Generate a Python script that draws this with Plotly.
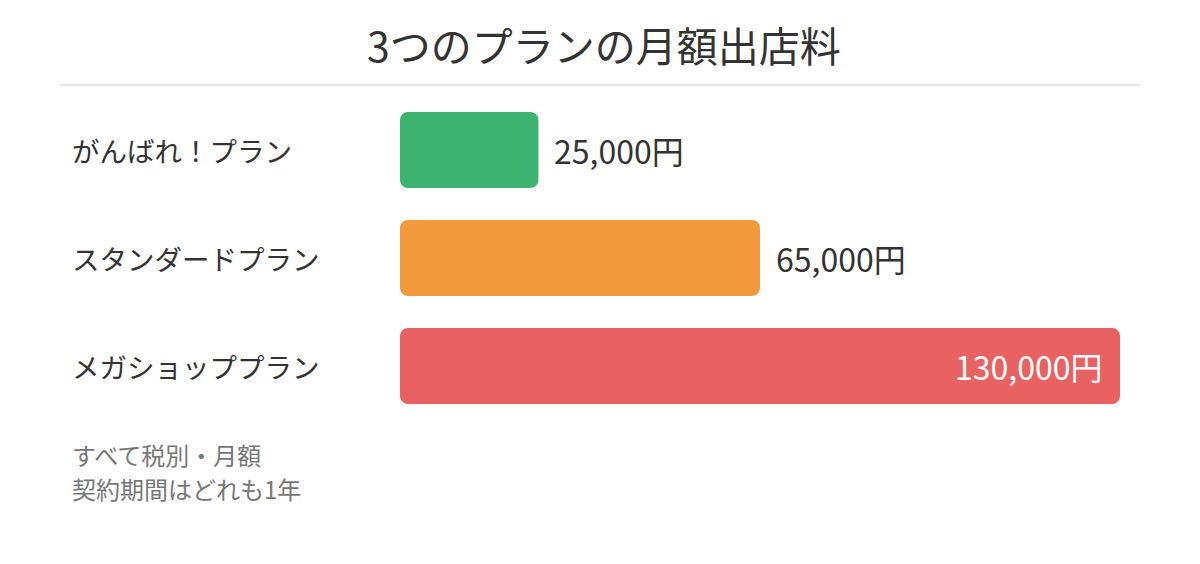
import plotly.graph_objects as go

# plan names, monthly fee (yen), bar colours
plans = ["がんばれ！プラン", "スタンダードプラン", "メガショッププラン"]
fees = [25000, 65000, 130000]
colors = ["#3db370", "#f39a3c", "#e86262"]
notes = ["すべて税別・月額", "契約期間はどれも1年"]
title = "3つのプランの月額出店料"

INK = "#333333"
FONT = "Noto Sans CJK JP, Noto Sans, sans-serif"

fig = go.Figure()
fig.add_bar(
    y=plans, x=fees, base=[0] * len(fees), orientation="h",
    marker={"color": colors, "cornerradius": 8, "line": {"width": 0}},
    hovertemplate="%{y}: %{x:,}円<extra></extra>", showlegend=False,
)

x_max = max(fees)
for name, fee in zip(plans, fees):
    # plan name on the left
    fig.add_annotation(
        x=-0.458, xref="paper", y=name, yref="y", text=name, showarrow=False,
        xanchor="left", font={"size": 27.5, "color": INK, "family": FONT},
    )
    # the longest bar carries its label inside, the others outside
    inside = fee == x_max
    fig.add_annotation(
        x=fee, y=name, text=f"{fee:,}円", showarrow=False,
        xanchor="right" if inside else "left", xshift=-16 if inside else 14,
        font={"size": 32, "color": "#ffffff" if inside else INK, "family": FONT},
    )

for i, line in enumerate(notes):
    fig.add_annotation(
        x=-0.458, xref="paper", y=-0.108 - 0.102 * i, yref="paper", text=line,
        showarrow=False, xanchor="left", yanchor="middle",
        font={"size": 24, "color": "#777777", "family": FONT},
    )

# rule under the title
fig.add_shape(
    type="line", xref="paper", yref="paper", x0=-0.4722, x1=1.0278, y0=1.034, y1=1.034,
    line={"color": "#e6e6e6", "width": 2.5},
)

# the page body adds an 8px offset, so margins are pulled in by 8px
fig.update_layout(
    width=1200, height=564,
    title={"text": title, "x": 596 / 1200, "xref": "container", "y": 1 - 40 / 564,
           "yref": "container", "xanchor": "center", "yanchor": "middle",
           "font": {"size": 41, "color": INK, "family": FONT}},
    bargap=0.296,
    margin={"l": 392, "r": 88, "t": 88, "b": 152},
    paper_bgcolor="#ffffff", plot_bgcolor="#ffffff",
    font={"family": FONT, "color": INK},
    xaxis={"range": [0, x_max], "visible": False, "fixedrange": True},
    yaxis={"autorange": "reversed", "visible": False, "fixedrange": True},
)

fig.write_html("out.html", config={"displayModeBar": False})
